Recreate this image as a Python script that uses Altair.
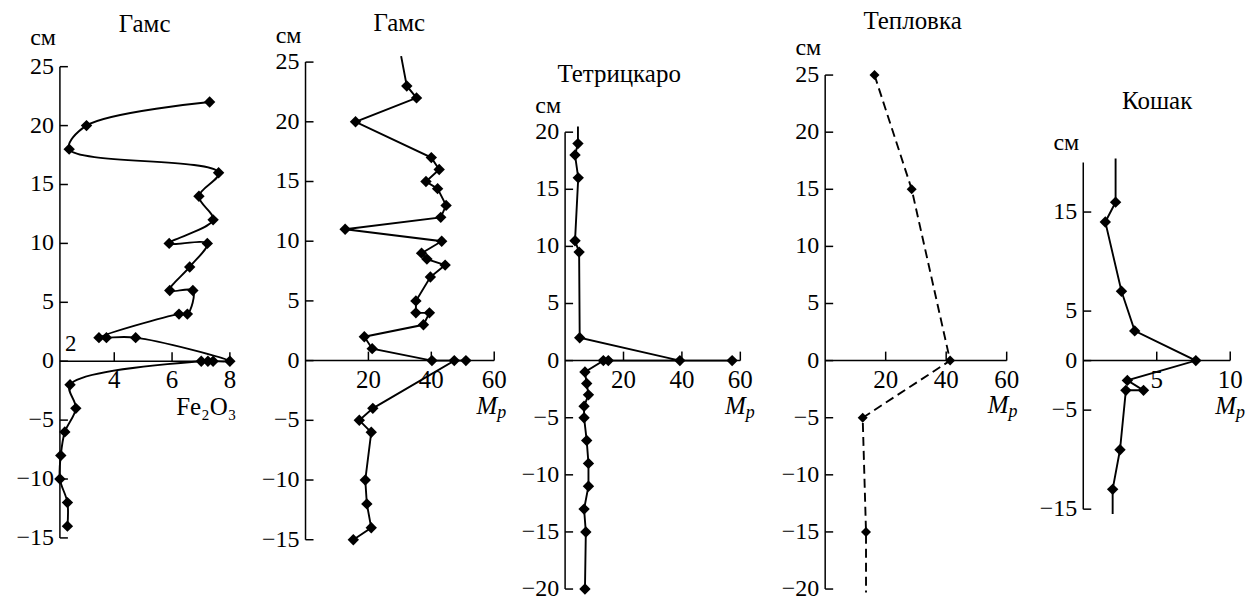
import altair as alt
import pandas as pd

# ---------------- values ----------------
# Panel 1: Гамс, Fe2O3 (in drawing order)
gams_fe_x = [7.3, 3.04, 2.44, 7.61, 6.93, 7.42, 5.9, 7.22, 6.61, 5.92, 6.72, 6.53, 6.24,
             3.47, 3.73, 4.74, 8.0, 7.42, 7.24, 7.01, 2.47, 2.67, 2.29, 2.15, 2.12, 2.38, 2.38]
gams_fe_depth = [22, 20, 18, 16, 14, 12, 10, 10, 8, 6, 6, 4, 4,
                 2, 2, 2, 0, 0, 0, 0, -2, -4, -6, -8, -10, -12, -14]

# Panel 2: Гамс, Mp
gams_mp_x = [32.2, 35.3, 15.9, 40.0, 42.5, 38.3, 42.0, 44.7, 43.0, 12.6, 43.3, 36.9, 38.6,
             44.4, 39.7, 35.1, 35.1, 39.4, 37.5, 18.7, 21.2, 40.2, 51.0, 47.3, 21.4, 17.1,
             20.9, 19.0, 19.5, 20.9, 15.2]
gams_mp_depth = [23, 22, 20, 17, 16, 15, 14.4, 13, 12, 11, 10, 9, 8.5,
                 8, 7, 5, 4, 4, 3, 2, 1, 0, 0, 0, -4, -5,
                 -6, -10, -12, -14, -15]
gams_mp_top = [30.4, 25.5]          # line continues above the first sample

# Panel 3: Тетрицкаро, Mp
tetr_mp_x = [4.4, 3.4, 4.5, 3.4, 4.8, 5.0, 39.3, 57.2, 14.8, 13.1, 6.8, 7.4, 8.0,
             6.5, 6.5, 7.4, 8.0, 8.0, 6.5, 7.1, 6.8]
tetr_mp_depth = [19, 18, 16, 10.5, 9.5, 2, 0, 0, 0, 0, -1, -2, -3,
                 -4, -5, -7, -9, -11, -13, -15, -20]
tetr_top = [4.4, 20.5]

# Panel 4: Тепловка, Mp
tepl_mp_x = [16.3, 28.6, 41.3, 12.4, 13.5]
tepl_mp_depth = [25, 15, 0, -5, -15]
tepl_bottom = [13.5, -20.3]

# Panel 5: Кошак, Mp
kosh_mp_x = [2.2, 1.5, 2.6, 3.5, 7.66, 3.0, 4.1, 2.9, 2.5, 2.0]
kosh_mp_depth = [16, 14, 7, 3, 0, -2, -3, -3, -9, -13]
kosh_top = [2.2, 20.4]
kosh_bottom = [2.0, -15.5]

titles = ["Гамс", "Гамс", "Тетрицкаро", "Тепловка", "Кошак"]
unit_label = "см"

yticks_gams = [25, 20, 15, 10, 5, 0, -5, -10, -15]
yticks_tetr = [20, 15, 10, 5, 0, -5, -10, -15, -20]
yticks_tepl = [25, 20, 15, 10, 5, 0, -5, -10, -15, -20]
yticks_kosh = [15, 5, 0, -5, -15]
xticks_fe = [4, 6, 8]
xticks_mp = [20, 40, 60]
xticks_kosh = [5, 10]

# ---------------- layout / style ----------------
FONT = "Liberation Serif"
H = 583
TOP_REF = 10


def fmt(v):
    s = ("%g" % v)
    return s.replace("-", "\u2212")


def make_panel(p):
    L, R, a, c, z, k = p["L"], p["R"], p["a"], p["c"], p["z"], p["k"]
    xdom = [(L - a) / c, (R - a) / c]
    ydom = [(z - (TOP_REF + H)) / k, (z - TOP_REF) / k]
    xsc = alt.Scale(domain=xdom, nice=False, zero=False)
    ysc = alt.Scale(domain=ydom, nice=False, zero=False)

    def X(f):
        return alt.X(f, type="quantitative", scale=xsc, axis=None)

    def Y(f):
        return alt.Y(f, type="quantitative", scale=ysc, axis=None)

    ax = p["x0"]
    layers = []
    rule = dict(color="black", strokeWidth=1.5)

    # y axis line
    df = pd.DataFrame({"x": [ax], "y": [p["ylo"]], "y2": [p["yhi"]]})
    layers.append(alt.Chart(df).mark_rule(**rule).encode(x=X("x"), y=Y("y"), y2="y2"))
    # x axis line (at depth 0)
    df = pd.DataFrame({"x": [ax], "x2": [p["xend"]], "y": [0]})
    layers.append(alt.Chart(df).mark_rule(**rule).encode(x=X("x"), x2="x2", y=Y("y")))
    # y ticks (inward)
    yt = p["yticks"]
    df = pd.DataFrame({"y": yt, "x": [ax] * len(yt), "x2": [ax + 8 / c] * len(yt),
                       "t": [fmt(v) for v in yt]})
    layers.append(alt.Chart(df).mark_rule(**rule).encode(x=X("x"), x2="x2", y=Y("y")))
    layers.append(alt.Chart(df).mark_text(align="right", baseline="middle", dx=-6, dy=0,
                                          font=FONT, fontSize=24, color="black")
                  .encode(x=X("x"), y=Y("y"), text="t:N"))
    # x ticks (upward)
    xt = p["xticks"]
    df = pd.DataFrame({"x": xt, "y": [0] * len(xt), "y2": [9 / k] * len(xt),
                       "t": [fmt(v) for v in xt]})
    layers.append(alt.Chart(df).mark_rule(**rule).encode(x=X("x"), y=Y("y"), y2="y2"))
    layers.append(alt.Chart(df).mark_text(align="center", baseline="alphabetic", dy=27,
                                          font=FONT, fontSize=25, color="black")
                  .encode(x=X("x"), y=Y("y"), text="t:N"))

    # data line
    lx = list(p["xs"])
    ly = list(p["ys"])
    if p.get("start"):
        lx = [p["start"][0]] + lx
        ly = [p["start"][1]] + ly
    if p.get("end"):
        lx = lx + [p["end"][0]]
        ly = ly + [p["end"][1]]
    df = pd.DataFrame({"x": lx, "y": ly, "o": list(range(len(lx)))})
    line_kw = dict(color="black", strokeWidth=1.9, interpolate=p.get("interp", "linear"))
    if p.get("dash"):
        line_kw["strokeDash"] = p["dash"]
    layers.append(alt.Chart(df).mark_line(**line_kw)
                  .encode(x=X("x"), y=Y("y"), order=alt.Order("o:Q")))
    # markers
    df = pd.DataFrame({"x": p["xs"], "y": p["ys"]})
    layers.append(alt.Chart(df).mark_point(shape="diamond", filled=True, opacity=1,
                                           color="black", size=p.get("msize", 130))
                  .encode(x=X("x"), y=Y("y")))

    # title
    df = pd.DataFrame({"x": [p["title_pos"][0]], "y": [p["title_pos"][1]], "t": [p["title"]]})
    layers.append(alt.Chart(df).mark_text(align="center", baseline="alphabetic",
                                          font=FONT, fontSize=25, color="black")
                  .encode(x=X("x"), y=Y("y"), text="t:N"))
    # unit label
    df = pd.DataFrame({"x": [ax], "y": [p["cm_y"]], "t": [unit_label]})
    layers.append(alt.Chart(df).mark_text(align="right", baseline="alphabetic", dx=-4,
                                          font=FONT, fontSize=24, color="black")
                  .encode(x=X("x"), y=Y("y"), text="t:N"))
    # variable label
    vx, vy = p["var_pos"]
    if p["var"] == "fe":
        df = pd.DataFrame({"x": [vx], "y": [vy], "t": ["Fe\u2082O\u2083"]})
        layers.append(alt.Chart(df).mark_text(align="right", baseline="alphabetic",
                                              font=FONT, fontSize=25, color="black")
                      .encode(x=X("x"), y=Y("y"), text="t:N"))
        df = pd.DataFrame({"x": [ax], "y": [0], "t": ["2"]})
        layers.append(alt.Chart(df).mark_text(align="left", baseline="alphabetic", dx=5, dy=-10,
                                              font=FONT, fontSize=23, color="black")
                      .encode(x=X("x"), y=Y("y"), text="t:N"))
    else:
        df = pd.DataFrame({"x": [vx], "y": [vy], "t": ["M"], "s": ["p"]})
        layers.append(alt.Chart(df).mark_text(align="right", baseline="alphabetic",
                                              font=FONT, fontSize=25, fontStyle="italic",
                                              color="black")
                      .encode(x=X("x"), y=Y("y"), text="t:N"))
        layers.append(alt.Chart(df).mark_text(align="left", baseline="alphabetic", dy=4,
                                              font=FONT, fontSize=18, fontStyle="italic",
                                              color="black")
                      .encode(x=X("x"), y=Y("y"), text="s:N"))

    return alt.layer(*layers).properties(width=R - L, height=H)


panels = [
    dict(title=titles[0], L=8, R=250, a=60 - 28.95 * 2.12, c=28.95, z=358.3, k=11.8,
         xs=gams_fe_x, ys=gams_fe_depth, interp="catmull-rom",
         x0=2.12, xend=8, xticks=xticks_fe, yticks=yticks_gams, ylo=-15, yhi=25,
         title_pos=(5.05, 27.97), cm_y=26.8, var="fe", var_pos=(8.23, -4.6)),
    dict(title=titles[1], L=250, R=520, a=306, c=3.15, z=357.7, k=11.96,
         xs=gams_mp_x, ys=gams_mp_depth, start=gams_mp_top,
         x0=0, xend=60, xticks=xticks_mp, yticks=yticks_gams, ylo=-15, yhi=25,
         title_pos=(29.8, 27.6), cm_y=26.6, var="mp", var_pos=(61, -4.5)),
    dict(title=titles[2], L=520, R=780, a=566, c=2.925, z=357.7, k=11.44,
         xs=tetr_mp_x, ys=tetr_mp_depth, start=tetr_top,
         x0=0, xend=60, xticks=xticks_mp, yticks=yticks_tetr, ylo=-20, yhi=20,
         title_pos=(18.5, 24.4), cm_y=21.7, var="mp", var_pos=(61.9, -4.7)),
    dict(title=titles[3], L=780, R=1030, a=826.5, c=3.03, z=357.7, k=11.44,
         xs=tepl_mp_x, ys=tepl_mp_depth, end=tepl_bottom, dash=[9, 5], msize=100,
         x0=0, xend=60, xticks=xticks_mp, yticks=yticks_tepl, ylo=-20, yhi=25,
         title_pos=(28.9, 29.0), cm_y=26.8, var="mp", var_pos=(60.6, -4.6)),
    dict(title=titles[4], L=1030, R=1246, a=1085, c=14.72, z=357.7, k=9.92,
         xs=kosh_mp_x, ys=kosh_mp_depth, start=kosh_top, end=kosh_bottom,
         x0=0, xend=10, xticks=xticks_kosh, yticks=yticks_kosh, ylo=-15, yhi=20,
         title_pos=(5.03, 25.4), cm_y=21.3, var="mp", var_pos=(10.4, -5.4)),
]

chart = alt.hconcat(*[make_panel(p) for p in panels], spacing=0, bounds="flush") \
    .properties(padding=0) \
    .configure_view(stroke=None)

chart.save("out.html", embed_options={"renderer": "svg", "actions": False})
